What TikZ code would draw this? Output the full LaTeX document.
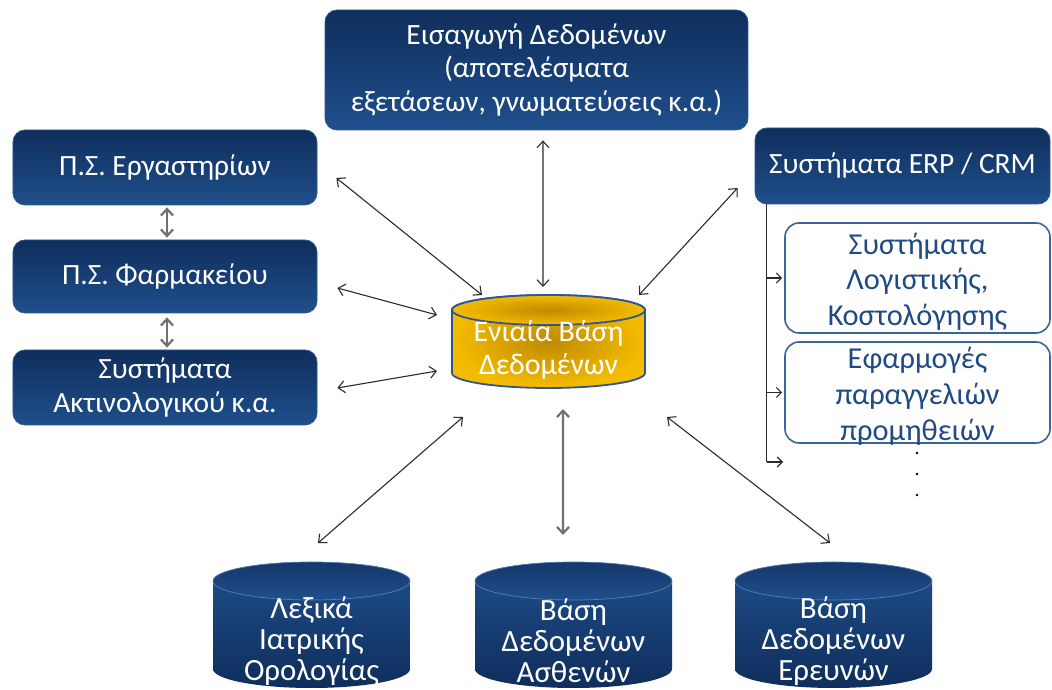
\documentclass[tikz,border=0pt]{standalone}
\usepackage{fontspec}
\setmainfont{Carlito}
\usetikzlibrary{arrows.meta,calc}

\definecolor{navyTop}{HTML}{0F2E5C}
\definecolor{navyBot}{HTML}{1F4F8C}
\definecolor{navyEdge}{HTML}{2C5690}
\definecolor{rimBlue}{HTML}{5A7DB2}
\definecolor{boxBlue}{HTML}{3A64A0}
\definecolor{textBlue}{HTML}{1F4A85}
\definecolor{gold}{HTML}{F4BC00}
\definecolor{goldDark}{HTML}{BF8A00}
\definecolor{dbEdge}{HTML}{2F5597}
\definecolor{arrowGrey}{HTML}{2B2B2B}
\definecolor{shaftGrey}{HTML}{707070}

% cylinder body: centre x, y of top ellipse, y of bottom ellipse, rx, ry, style
\newcommand\cylbody[6]{%
  \path[#6] (#1-#4,#2) -- (#1-#4,#3)
    arc[start angle=180,end angle=360,x radius=#4,y radius=#5]
    -- (#1+#4,#2)
    arc[start angle=0,end angle=180,x radius=#4,y radius=#5] -- cycle;}
% cylinder lid
\newcommand\cyllid[5]{%
  \path[#5] (#1,#2) ellipse [x radius=#3,y radius=#4];}
% three centred lines that do not change the size of their box
\newcommand\stackedlines[2]{\raisebox{#1}[0pt][0pt]{\begin{tabular}{@{}c@{}}#2\end{tabular}}}

\begin{document}
\begin{tikzpicture}[x=1bp,y=1bp,
  navybox/.style={rounded corners=12bp, top color=navyTop, bottom color=navyBot,
    draw=navyEdge, line width=0.8bp, text=white, align=center, inner sep=0pt,
    font=\fontsize{29.5}{34}\selectfont},
  whitebox/.style={rounded corners=14bp, fill=white, draw=boxBlue, line width=1.6bp,
    text=textBlue, inner sep=0pt, font=\fontsize{30.5}{36}\selectfont},
  cyltext/.style={text=white, align=center, inner sep=0pt, font=\fontsize{31}{31}\selectfont},
  link/.style={<->, >={Straight Barb[length=6.5bp,width=12bp]}, draw=arrowGrey, line width=1.1bp},
  thicklink/.style={<->, >={Straight Barb[length=6.5bp,width=12bp]}, draw=shaftGrey, line width=2.2bp},
  branch/.style={->, >={Straight Barb[length=5bp,width=10bp]}, draw=arrowGrey, line width=1.1bp},
  navybody/.style={top color=navyBot, bottom color=navyTop},
  navylid/.style={top color=navyTop!70!navyBot, bottom color=navyBot, draw=rimBlue, line width=0.7bp},
  goldbody/.style={inner color=goldDark, outer color=gold},
  goldlid/.style={inner color=goldDark, outer color=gold, draw=dbEdge, line width=1.8bp}
]
\useasboundingbox (0,0) rectangle (1052,690);

% ---------- boxes ----------
\node[navybox, minimum width=423bp, minimum height=120bp] (top) at (536.5,620)
  {Εισαγωγή Δεδομένων\\(αποτελέσματα\\εξετάσεων, γνωματεύσεις κ.α.)};

\node[navybox, minimum width=304bp, minimum height=75bp] (erg) at (165,522.5)
  {Π.Σ. Εργαστηρίων};
\node[navybox, minimum width=304bp, minimum height=73bp] (farm) at (165,413.5)
  {Π.Σ. Φαρμακείου};
\node[navybox, minimum width=304bp, minimum height=75bp] (akt) at (165,302.5)
  {Συστήματα\\Ακτινολογικού κ.α.};

\node[navybox, minimum width=295bp, minimum height=76bp] (erp) at (902.5,524)
  {Συστήματα ERP / CRM};
\node[whitebox, minimum width=265bp, minimum height=110bp] (log) at (917.5,412)
  {\stackedlines{-11bp}{Συστήματα\\Λογιστικής,\\Κοστολόγησης}};
\node[whitebox, minimum width=265bp, minimum height=101bp] (par) at (917.5,297.5)
  {\stackedlines{-11bp}{Εφαρμογές\\παραγγελιών\\προμηθειών}};

% ---------- central database ----------
\cylbody{548.5}{380}{317}{96.5}{15}{goldbody, draw=dbEdge, line width=1.8bp}
\cyllid{548.5}{380}{96.5}{15}{goldlid}
\node[cyltext, font=\fontsize{30}{33}\selectfont] (db) at (548.5,340.5)
  {Ενιαία Βάση\\Δεδομένων};

% ---------- lower databases ----------
\foreach \cx in {311.5,573.5,833.5}{%
  \cylbody{\cx}{109}{21}{98.5}{19}{navybody}
  \cyllid{\cx}{109}{98.5}{19}{navylid}
}
\node[cyltext] (lex) at (311.5,49) {Λεξικά\\Ιατρικής\\Ορολογίας};
\node[cyltext] (pat) at (573.5,49) {Βάση\\Δεδομένων\\Ασθενών};
\node[cyltext] (res) at (833.5,49) {Βάση\\Δεδομένων\\Ερευνών};

% ---------- connectors to the central database ----------
\draw[link] ([shift={(6.5,-10)}]top.south) -- ([shift={(-5.5,62.5)}]db.center);
\draw[link] ([shift={(19,-10.5)}]erg.east) -- ([shift={(-66.5,54.5)}]db.center);
\draw[link] ([shift={(20,-11.5)}]farm.east) -- ([shift={(-111.5,34.5)}]db.center);
\draw[link] ([shift={(20,-0.5)}]akt.east) -- ([shift={(-111.5,-21.5)}]db.center);
\draw[link] ([shift={(-17,-22)}]erp.west) -- ([shift={(90.5,54.5)}]db.center);
\draw[link] ([shift={(-85.5,-67.5)}]db.center) -- ([shift={(6.5,98)}]lex.center);
\draw[thicklink] ([shift={(14.5,-59.5)}]db.center) -- ([shift={(-10.5,106)}]pat.center);
\draw[link] ([shift={(118.5,-67.5)}]db.center) -- ([shift={(-3.5,98)}]res.center);

% ---------- links between the hospital systems ----------
\draw[thicklink] ([shift={(2,-2)}]erg.south) -- ([shift={(2,2)}]farm.north);
\draw[thicklink] ([shift={(2,-4)}]farm.south) -- ([shift={(2,2)}]akt.north);

% ---------- ERP / CRM branch ----------
\coordinate (more) at (783,228);
\draw[arrowGrey, line width=1.1bp] ([xshift=12bp]erp.south west) -- ([xshift=12bp]erp.south west |- more);
\draw[branch] ([xshift=12bp]erp.south west |- log.west) -- ([xshift=-2bp]log.west);
\draw[branch] ([xshift=12bp]erp.south west |- par.west) -- ([xshift=-2bp]par.west);
\draw[branch] ([xshift=12bp]erp.south west |- more) -- (more);

% continuation dots
\foreach \yy in {237,216,195}{\fill[black] (917,\yy) circle (1.3bp);}
\end{tikzpicture}
\end{document}
